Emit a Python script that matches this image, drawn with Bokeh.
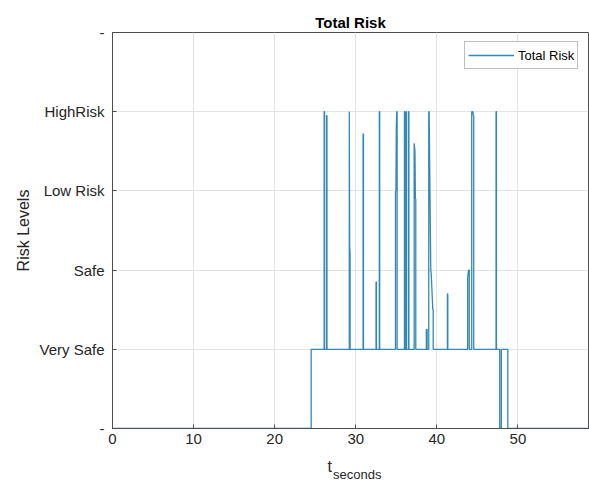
from bokeh.plotting import figure
from bokeh.models import Range1d, Legend, LegendItem, FixedTicker, Label
from bokeh.layouts import column
from bokeh.embed import file_html
from bokeh.resources import INLINE

# ---- data ----
t_seconds = [0, 24.5, 24.5,
             26.1, 26.1, 26.15, 26.15, 26.4, 26.4, 26.45, 26.45,
             29.2, 29.2, 29.25, 29.3, 29.3,
             30.9, 30.9, 30.95, 30.95,
             32.5, 32.5, 32.55, 32.55,
             32.9, 32.9, 32.95, 32.95,
             34.9, 34.9, 34.95, 35.0, 35.05, 35.1, 35.1,
             36.0, 36.0, 36.05, 36.05, 36.2, 36.2, 36.25, 36.25,
             36.5, 36.5, 36.55, 36.55,
             37.2, 37.2, 37.3, 37.35, 37.4, 37.4,
             38.7, 38.7, 38.8, 38.8,
             39.0, 39.0, 39.05, 39.25, 39.3, 39.5, 39.55, 39.55,
             41.3, 41.3, 41.35, 41.35,
             43.8, 43.8, 43.9, 43.95, 44.0, 44.0,
             44.3, 44.3, 44.45, 44.5, 44.55, 44.55,
             47.3, 47.3, 47.35, 47.35,
             47.75, 47.75, 47.95, 47.95, 48.75, 48.75, 58.7]
total_risk = [0, 0, 1,
              1, 4.0, 4.0, 1, 1, 3.95, 3.95, 1,
              1, 4.0, 2.3, 2.2, 1,
              1, 3.72, 3.72, 1,
              1, 1.85, 1.85, 1,
              1, 4.0, 4.0, 1,
              1, 3.0, 3.0, 3.8, 4.0, 4.0, 1,
              1, 4.0, 4.0, 1, 1, 4.0, 4.0, 1,
              1, 4.0, 4.0, 1,
              1, 3.6, 3.5, 2.9, 2.9, 1,
              1, 1.25, 1.25, 1,
              1, 4.0, 4.0, 2.0, 1.96, 1.5, 1.5, 1,
              1, 1.7, 1.7, 1,
              1, 1.9, 2.0, 2.0, 2.0, 1,
              1, 4.0, 4.0, 3.95, 3.95, 1,
              1, 4.0, 4.0, 1,
              1, 0, 0, 1, 1, 0, 0]

y_tick_values = [0, 1, 2, 3, 4, 5]
y_tick_labels = ["-", "Very Safe", "Safe", "Low Risk", "HighRisk", "-"]
x_tick_values = [0, 10, 20, 30, 40, 50]

FONT = "Liberation Sans"
TXT = "#262626"
LINE = "#3489b4"

p = figure(width=589, height=455, output_backend="svg", toolbar_location=None,
           x_range=Range1d(0, 58.7), y_range=Range1d(0, 5),
           min_border_left=112, min_border_right=1, min_border_top=32, min_border_bottom=27)

r = p.line(t_seconds, total_risk, line_color=LINE, line_width=1.3)

p.title.text = "Total Risk"
p.title.align = "center"
p.title.text_font = FONT
p.title.text_font_size = "15px"
p.title.text_font_style = "bold"
p.title.text_color = "#000000"
p.title.standoff = 4

p.outline_line_color = "#4d4d4d"
p.outline_line_width = 1
p.background_fill_color = "white"
p.border_fill_color = "white"

for ax in (p.xaxis[0], p.yaxis[0]):
    ax.axis_line_color = "#4d4d4d"
    ax.major_tick_line_color = "#4d4d4d"
    ax.major_tick_in = 4
    ax.major_tick_out = 0
    ax.minor_tick_line_color = None
    ax.major_label_text_font = FONT
    ax.major_label_text_font_size = "15px"
    ax.major_label_text_color = TXT

p.xaxis.ticker = FixedTicker(ticks=x_tick_values)
p.yaxis.ticker = FixedTicker(ticks=y_tick_values)
p.yaxis.major_label_overrides = {v: s for v, s in zip(y_tick_values, y_tick_labels)}
p.yaxis.major_label_standoff = 8
p.xaxis.major_label_standoff = 5

p.yaxis.axis_label = "Risk Levels"
p.yaxis.axis_label_text_font = FONT
p.yaxis.axis_label_text_font_size = "16px"
p.yaxis.axis_label_text_font_style = "normal"
p.yaxis.axis_label_text_color = TXT
p.yaxis.axis_label_standoff = 4

p.xgrid.grid_line_color = "#e3e3e3"
p.ygrid.grid_line_color = "#e3e3e3"

legend = Legend(items=[LegendItem(label="Total Risk", renderers=[r])],
                location=(352, 359), label_text_font=FONT, label_text_font_size="13px",
                label_text_color="#000000", border_line_color="#808080",
                glyph_width=46, margin=0, padding=3, spacing=0,
                label_standoff=4, background_fill_alpha=1.0)
p.add_layout(legend)

# strip below the chart holding the x-axis label t_seconds (with subscript)
lab = figure(width=589, height=28, output_backend="svg", toolbar_location=None,
             x_range=Range1d(0, 589), y_range=Range1d(0, 28),
             x_axis_type=None, y_axis_type=None, title=None,
             min_border_left=0, min_border_right=0, min_border_top=0, min_border_bottom=0)
lab.grid.visible = False
lab.outline_line_color = None
lab.border_fill_color = "white"
lab.add_layout(Label(x=266, y=17, text="t", text_font=FONT, text_font_size="16px",
                     text_color=TXT, text_baseline="alphabetic"))
lab.add_layout(Label(x=273, y=9, text="seconds", text_font=FONT, text_font_size="13px",
                     text_color=TXT, text_baseline="alphabetic"))

layout = column(p, lab, spacing=0)
open("out.html", "w").write(file_html(layout, INLINE))
